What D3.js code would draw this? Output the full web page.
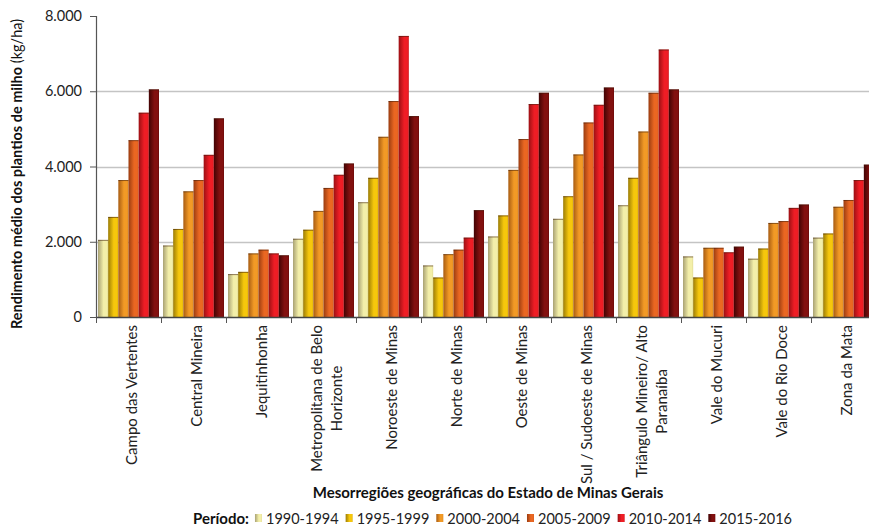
<!DOCTYPE html>
<html>
<head>
<meta charset="utf-8">
<script src="https://cdn.jsdelivr.net/npm/d3@7"></script>
<style>
  html, body { margin: 0; padding: 0; background: #fff; overflow: hidden; }
  svg { display: block; font-family: Lato, "Open Sans", sans-serif; }
</style>
</head>
<body>
<svg id="chart" width="869" height="526"></svg>
<script>
// Mesorregiões de Minas Gerais
const regions = [
  "Campo das Vertentes", "Central Mineira", "Jequitinhonha",
  "Metropolitana de Belo|Horizonte", "Noroeste de Minas", "Norte de Minas",
  "Oeste de Minas", "Sul / Sudoeste de Minas", "Triângulo Mineiro/ Alto|Paranaíba",
  "Vale do Mucuri", "Vale do Rio Doce", "Zona da Mata"
];

const periods = ["1990-1994", "1995-1999", "2000-2004", "2005-2009", "2010-2014", "2015-2016"];

// Rendimento médio (kg/ha) por período, na ordem das mesorregiões
const p1990_1994 = [2050, 1900, 1140, 2080, 3050, 1370, 2140, 2610, 2970, 1610, 1550, 2110];
const p1995_1999 = [2660, 2340, 1200, 2320, 3700, 1050, 2700, 3210, 3700, 1050, 1820, 2220];
const p2000_2004 = [3640, 3340, 1690, 2820, 4790, 1670, 3910, 4320, 4930, 1840, 2500, 2930];
const p2005_2009 = [4700, 3640, 1790, 3430, 5740, 1790, 4730, 5170, 5960, 1840, 2550, 3110];
const p2010_2014 = [5430, 4310, 1690, 3780, 7470, 2110, 5660, 5640, 7110, 1720, 2900, 3640];
const p2015_2016 = [6050, 5280, 1640, 4080, 5340, 2840, 5960, 6100, 6050, 1870, 2990, 4050];

const series = [p1990_1994, p1995_1999, p2000_2004, p2005_2009, p2010_2014, p2015_2016];

const yTicks = [0, 2000, 4000, 6000, 8000];

// Paleta: [borda escura, tom claro, borda direita]
const palette = [
  ["#a9a274", "#f3efa9", "#e2dc96"],
  ["#9c7d06", "#f6c70c", "#e0b208"],
  ["#a85c12", "#f29a26", "#dc8a20"],
  ["#9a3c10", "#ea6722", "#d45a1c"],
  ["#9c1014", "#ef1d25", "#d0161c"],
  ["#420303", "#82100f", "#6c0a0a"]
];

const svg = d3.select("#chart");
const W = 869, H = 526;
const plot = { left: 96, right: 876, top: 16, bottom: 317 };

const x0 = d3.scaleBand().domain(regions).range([plot.left, plot.right]).padding(0);
const x1 = d3.scaleBand().domain(periods).range([2, x0.bandwidth() - 2]).padding(0);
const y = d3.scaleLinear().domain([0, 8000]).range([plot.bottom, plot.top]);

// Gradientes horizontais das barras
const defs = svg.append("defs");
palette.forEach((c, i) => {
  const g = defs.append("linearGradient")
    .attr("id", "grad" + i).attr("x1", "0%").attr("x2", "100%").attr("y1", "0%").attr("y2", "0%");
  g.append("stop").attr("offset", "0%").attr("stop-color", c[0]);
  g.append("stop").attr("offset", "55%").attr("stop-color", c[1]);
  g.append("stop").attr("offset", "85%").attr("stop-color", c[1]);
  g.append("stop").attr("offset", "100%").attr("stop-color", c[2]);
});

// Linhas de grade
svg.append("g")
  .selectAll("line")
  .data(yTicks.filter(t => t > 0 && t < 8000))
  .join("line")
  .attr("x1", plot.left).attr("x2", W)
  .attr("y1", d => Math.round(y(d)) + 0.5).attr("y2", d => Math.round(y(d)) + 0.5)
  .attr("stroke", "#c4c4c4").attr("stroke-width", 1.3);

// Barras
const groups = svg.append("g")
  .selectAll("g")
  .data(regions)
  .join("g")
  .attr("transform", d => `translate(${x0(d)},0)`);

groups.selectAll("rect")
  .data((d, ri) => periods.map((p, pi) => ({ p, pi, v: series[pi][ri] })))
  .join("rect")
  .attr("x", d => x1(d.p))
  .attr("width", x1.bandwidth())
  .attr("y", d => y(d.v))
  .attr("height", d => y(0) - y(d.v))
  .attr("fill", d => `url(#grad${d.pi})`);

// Traço escuro no topo das barras
groups.selectAll("line.top")
  .data((d, ri) => periods.map((p, pi) => ({ p, pi, v: series[pi][ri] })))
  .join("line")
  .attr("class", "top")
  .attr("x1", d => x1(d.p))
  .attr("x2", d => x1(d.p) + x1.bandwidth())
  .attr("y1", d => y(d.v) + 0.5)
  .attr("y2", d => y(d.v) + 0.5)
  .attr("stroke", "#3a1a0a").attr("stroke-opacity", 0.55).attr("stroke-width", 1);

// Eixo Y
const yAxis = svg.append("g")
  .attr("transform", `translate(${plot.left},0)`)
  .call(d3.axisLeft(y).tickValues(yTicks).tickSize(6).tickPadding(8)
    .tickFormat(d => d3.format(",")(d).replace(/,/g, ".")));
yAxis.select(".domain").attr("stroke", "#555").attr("stroke-width", 1.2);
yAxis.selectAll(".tick line").attr("stroke", "#555");
yAxis.selectAll("text").attr("font-size", 14.5).attr("fill", "#222").attr("font-family", "Lato, sans-serif");

// Eixo X: linha base e marcas entre as categorias
const xAxis = svg.append("g");
xAxis.append("line")
  .attr("x1", plot.left).attr("x2", W)
  .attr("y1", plot.bottom + 0.5).attr("y2", plot.bottom + 0.5)
  .attr("stroke", "#444").attr("stroke-width", 1.3);
const bounds = regions.map(r => x0(r)).concat([x0.range()[1]]);
xAxis.selectAll("line.tk")
  .data(bounds)
  .join("line")
  .attr("class", "tk")
  .attr("x1", d => d + 0.5).attr("x2", d => d + 0.5)
  .attr("y1", plot.bottom).attr("y2", plot.bottom + 6)
  .attr("stroke", "#555");

// Rótulos das categorias (rotacionados, linhas centralizadas no bloco)
const labelTop = plot.bottom + 8;
const lineH = 20;
regions.forEach(r => {
  const lines = r.split("|");
  const cx = x0(r) + x0.bandwidth() / 2 + 3;
  const g = svg.append("g").attr("transform", `translate(${cx},0) rotate(-90)`);
  const texts = lines.map((ln, i) =>
    g.append("text")
      .attr("font-size", 15)
      .attr("fill", "#222")
      .attr("text-anchor", "middle")
      .attr("dy", "0.35em")
      .attr("y", (i - (lines.length - 1) / 2) * lineH)
      .text(ln));
  const wMax = d3.max(texts, t => t.node().getComputedTextLength());
  texts.forEach(t => t.attr("x", -(labelTop + wMax / 2)));
});

// Título do eixo X
svg.append("text")
  .attr("x", 488).attr("y", 498)
  .attr("text-anchor", "middle")
  .attr("font-size", 15).attr("font-weight", "bold").attr("fill", "#111")
  .text("Mesorregiões geográficas do Estado de Minas Gerais");

// Título do eixo Y
const yTitle = svg.append("text")
  .attr("transform", "translate(22,174) rotate(-90)")
  .attr("text-anchor", "middle")
  .attr("font-size", 14.5).attr("fill", "#111");
yTitle.append("tspan").attr("font-weight", "bold").text("Rendimento médio dos plantios de milho");
yTitle.append("tspan").attr("font-weight", "normal").text(" (kg/ha)");

// Legenda
const legend = svg.append("g").attr("transform", "translate(193,524)");
const lt = legend.append("text")
  .attr("font-size", 15).attr("font-weight", "bold").attr("fill", "#111")
  .text("Período:");
let lx = lt.node().getComputedTextLength() + 6;
periods.forEach((p, i) => {
  legend.append("rect")
    .attr("x", lx).attr("y", -10).attr("width", 7).attr("height", 8)
    .attr("fill", `url(#grad${i})`);
  const t = legend.append("text")
    .attr("x", lx + 11).attr("font-size", 14.5).attr("fill", "#222")
    .text(p);
  lx += 11 + t.node().getComputedTextLength() + 7;
});
</script>
</body>
</html>
